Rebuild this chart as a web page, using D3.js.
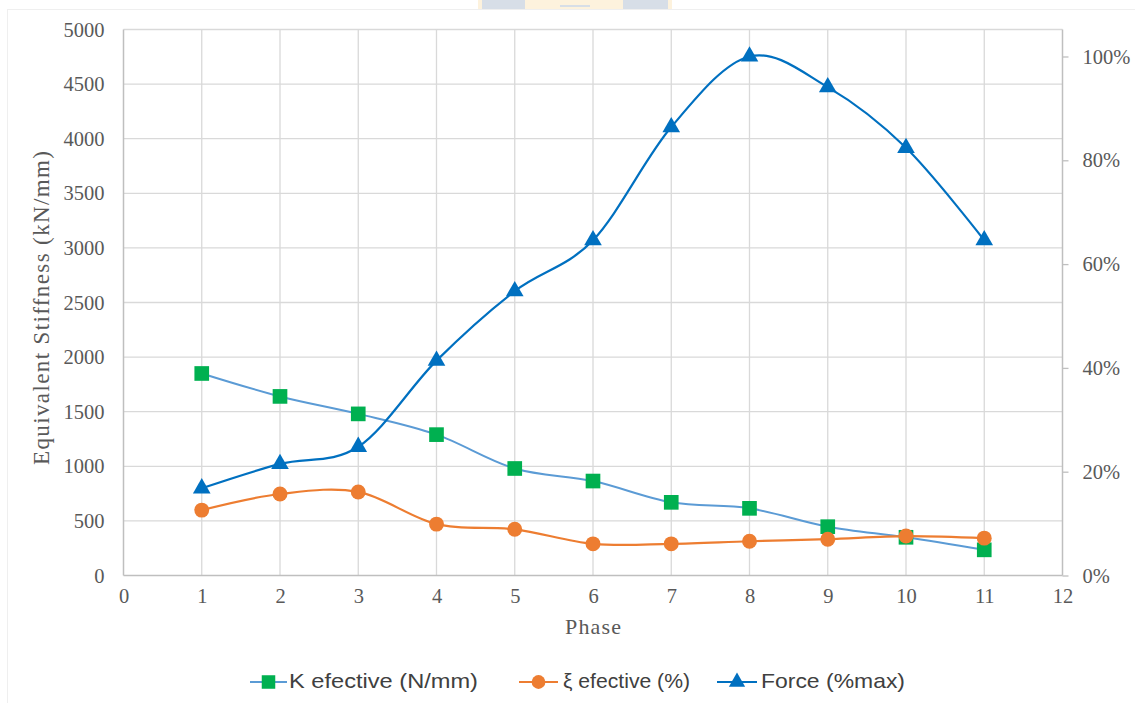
<!DOCTYPE html>
<html>
<head>
<meta charset="utf-8">
<script src="https://cdn.jsdelivr.net/npm/d3@7"></script>
<style>
  html, body { margin: 0; padding: 0; background: #ffffff; }
  svg { display: block; }
</style>
</head>
<body>
<svg id="chart" width="1135" height="703"></svg>
<script>
// Phases along the horizontal axis
const phases = [1, 2, 3, 4, 5, 6, 7, 8, 9, 10, 11];
// Equivalent stiffness per phase (left axis)
const kEfective = [1850, 1640, 1480, 1290, 980, 865, 670, 615, 447, 350, 235];
// Equivalent damping per phase, fraction (right axis)
const xiEfective = [0.126, 0.157, 0.161, 0.099, 0.089, 0.061, 0.061, 0.066, 0.070, 0.076, 0.072];
// Force as fraction of maximum per phase (right axis)
const forcePct = [0.168, 0.215, 0.248, 0.414, 0.548, 0.646, 0.864, 1.0, 0.941, 0.824, 0.646];

// Axis ticks
const xTicks = [0, 1, 2, 3, 4, 5, 6, 7, 8, 9, 10, 11, 12];
const leftTicks = [0, 500, 1000, 1500, 2000, 2500, 3000, 3500, 4000, 4500, 5000];
const rightTicks = [0, 0.2, 0.4, 0.6, 0.8, 1.0];

const seriesNames = ["K efective (N/mm)", "\u03BE efective (%)", "Force (%max)"];

const svg = d3.select("#chart");
const serif = "'Liberation Serif', 'Times New Roman', serif";
const sans = "'Liberation Sans', Arial, sans-serif";
const textGrey = "#595959";

const x = d3.scaleLinear().domain([0, 12]).range([123.5, 1062.5]);
const yL = d3.scaleLinear().domain([0, 5000]).range([575.5, 29.5]);
const yR = d3.scaleLinear().domain([0, 1.052]).range([575.5, 29.5]);

// Outer chart-area frame
svg.append("rect")
  .attr("x", 7.5).attr("y", 9.5).attr("width", 1140).attr("height", 700)
  .attr("fill", "none").attr("stroke", "#efefef").attr("stroke-width", 1);

// Small header graphic at the top edge
const hdr = svg.append("g");
hdr.append("rect").attr("x", 478).attr("y", 0).attr("width", 194).attr("height", 9).attr("fill", "#fdf2dd");
hdr.append("rect").attr("x", 482).attr("y", 0).attr("width", 43).attr("height", 9).attr("fill", "#d7dee7");
hdr.append("rect").attr("x", 623).attr("y", 0).attr("width", 45).attr("height", 9).attr("fill", "#d7dee7");
hdr.append("rect").attr("x", 560).attr("y", 5).attr("width", 30).attr("height", 2).attr("fill", "#d7dee7");

// Gridlines
const grid = svg.append("g").attr("stroke", "#d9d9d9").attr("stroke-width", 1.3);
grid.selectAll("line.h").data(leftTicks.slice(1)).join("line")
  .attr("x1", x(0)).attr("x2", x(12))
  .attr("y1", d => yL(d)).attr("y2", d => yL(d));
grid.selectAll("line.v").data(xTicks.slice(1, -1)).join("line")
  .attr("y1", yL(0)).attr("y2", yL(5000))
  .attr("x1", d => x(d)).attr("x2", d => x(d));

// Axes
const axisColor = "#bfbfbf";
const leftAxis = svg.append("g").attr("transform", `translate(${x(0)},0)`)
  .call(d3.axisLeft(yL).tickValues(leftTicks).tickSize(0).tickPadding(19).tickFormat(d3.format("d")));
const bottomAxis = svg.append("g").attr("transform", `translate(0,${yL(0)})`)
  .call(d3.axisBottom(x).tickValues(xTicks).tickSize(0).tickPadding(13).tickFormat(d3.format("d")));
const rightAxis = svg.append("g").attr("transform", `translate(${x(12)},0)`)
  .call(d3.axisRight(yR).tickValues(rightTicks).tickSize(6).tickPadding(14).tickFormat(d3.format(".0%")));

[leftAxis, bottomAxis, rightAxis].forEach(g => {
  g.select(".domain").attr("stroke", axisColor).attr("stroke-width", 1.5);
  g.selectAll(".tick line").attr("stroke", axisColor).attr("stroke-width", 1.3);
  g.selectAll(".tick text").attr("fill", textGrey)
    .style("font-family", serif).style("font-size", "20.5px");
});
leftAxis.select(".domain").attr("d", `M0,${yL(0)}V${yL(5000)}`);
rightAxis.select(".domain").attr("d", `M0,${yR(0)}V${yL(5000)}`);
bottomAxis.select(".domain").attr("d", `M${x(0)},0H${x(12)}`);

// Axis titles
svg.append("text")
  .attr("transform", "translate(44,308) rotate(-90)")
  .attr("text-anchor", "middle").attr("dominant-baseline", "middle")
  .attr("textLength", 314).attr("lengthAdjust", "spacing")
  .attr("fill", textGrey).style("font-family", serif).style("font-size", "23px")
  .text("Equivalent Stiffness (kN/mm)");
svg.append("text")
  .attr("x", 593).attr("y", 629)
  .attr("text-anchor", "middle").attr("dominant-baseline", "middle")
  .attr("textLength", 56).attr("lengthAdjust", "spacing")
  .attr("fill", textGrey).style("font-family", serif).style("font-size", "22px")
  .text("Phase");

// Series
const smooth = d3.curveCardinal.tension(0);
const series = [
  { values: kEfective, y: yL, line: "#5b9bd5", lw: 2, fill: "#00b050", sym: d3.symbolSquare, size: 215 },
  { values: xiEfective, y: yR, line: "#ed7d31", lw: 2.2, fill: "#ed7d31", sym: d3.symbolCircle, size: 175 },
  { values: forcePct, y: yR, line: "#0070c0", lw: 2.2, fill: "#0070c0", sym: d3.symbolTriangle, size: 135 }
];

series.forEach(s => {
  const pts = phases.map((p, i) => [x(p), s.y(s.values[i])]);
  svg.append("path")
    .attr("d", d3.line().curve(smooth)(pts))
    .attr("fill", "none").attr("stroke", s.line).attr("stroke-width", s.lw);
  svg.append("g").selectAll("path").data(pts).join("path")
    .attr("transform", d => `translate(${d[0]},${d[1]})`)
    .attr("d", d3.symbol(s.sym, s.size))
    .attr("fill", s.fill);
});

// Legend
const legendY = 682;
const legendItems = [
  { x0: 250, x1: 287, text: 289, tl: 189 },
  { x0: 519, x1: 558, text: 563, tl: 127 },
  { x0: 717, x1: 757, text: 761, tl: 144 }
];
legendItems.forEach((li, i) => {
  const s = series[i];
  const g = svg.append("g");
  g.append("line").attr("x1", li.x0).attr("x2", li.x1)
    .attr("y1", legendY).attr("y2", legendY)
    .attr("stroke", s.line).attr("stroke-width", s.lw);
  g.append("path")
    .attr("transform", `translate(${(li.x0 + li.x1) / 2},${legendY})`)
    .attr("d", d3.symbol(s.sym, s.size * 0.85))
    .attr("fill", s.fill);
  g.append("text")
    .attr("x", li.text).attr("y", legendY)
    .attr("dominant-baseline", "middle")
    .attr("textLength", li.tl).attr("lengthAdjust", "spacingAndGlyphs")
    .attr("fill", "#404040").style("font-family", sans).style("font-size", "21px")
    .text(seriesNames[i]);
});
</script>
</body>
</html>
